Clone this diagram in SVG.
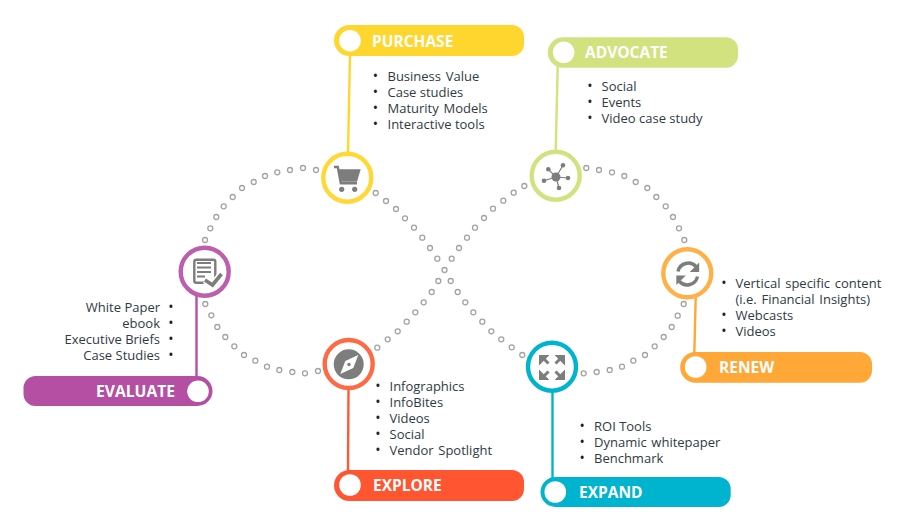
<svg xmlns="http://www.w3.org/2000/svg" width="910" height="517" viewBox="0 0 910 517">
<style>
text{font-family:"Open Sans","Liberation Sans",sans-serif}
.h{font-size:15.5px;font-weight:700;fill:#fff}
.b{font-size:13px;fill:#2f3a45}
.p{font-size:14px;fill:#1c2228}
.w{word-spacing:1.3px}
.e{text-anchor:end}
.ring{fill:#fff;stroke-width:4.400}
.hole{fill:#fff}
.d circle{fill:#fff;stroke:#a3a3a3;stroke-width:1.300}
.lk line{stroke-width:2.400}
.ic{fill:#7d7d7d}
.is{fill:none;stroke:#7d7d7d}
</style>
<g id="loop" class="d">
<circle cx="205" cy="240" r="2.500"/><circle cx="210.300" cy="228.300" r="2.500"/><circle cx="216.300" cy="217" r="2.500"/><circle cx="223.700" cy="206.300" r="2.500"/><circle cx="232.700" cy="197" r="2.500"/><circle cx="242" cy="188" r="2.500"/><circle cx="253.700" cy="182" r="2.500"/><circle cx="265" cy="176" r="2.500"/><circle cx="277.300" cy="172.300" r="2.500"/><circle cx="290" cy="170" r="2.500"/><circle cx="303" cy="168" r="2.500"/><circle cx="316" cy="170" r="2.500"/>
<circle cx="375.700" cy="193" r="2.500"/><circle cx="386" cy="201" r="2.500"/><circle cx="396" cy="209" r="2.500"/><circle cx="405" cy="218.300" r="2.500"/><circle cx="414" cy="227.700" r="2.500"/><circle cx="422.300" cy="237.700" r="2.500"/><circle cx="430" cy="248" r="2.500"/><circle cx="437.300" cy="258.700" r="2.500"/><circle cx="444.500" cy="270" r="2.500"/>
<circle cx="450.700" cy="281" r="2.500"/><circle cx="457.700" cy="292" r="2.500"/><circle cx="465.300" cy="302.300" r="2.500"/><circle cx="473.300" cy="312.300" r="2.500"/><circle cx="482.300" cy="321.700" r="2.500"/><circle cx="491.300" cy="331.300" r="2.500"/><circle cx="501.300" cy="339.300" r="2.500"/><circle cx="511.700" cy="347.300" r="2.500"/><circle cx="522.300" cy="355" r="2.500"/>
<circle cx="583.700" cy="373.300" r="2.500"/><circle cx="596.700" cy="372" r="2.500"/><circle cx="609.700" cy="370" r="2.500"/><circle cx="622" cy="366.700" r="2.500"/><circle cx="633.300" cy="360.700" r="2.500"/><circle cx="645" cy="355" r="2.500"/><circle cx="654.700" cy="346.300" r="2.500"/><circle cx="663.700" cy="337" r="2.500"/><circle cx="671.700" cy="327" r="2.500"/><circle cx="677.700" cy="315.700" r="2.500"/><circle cx="683.700" cy="304" r="2.500"/>
<circle cx="586.300" cy="168" r="2.500"/><circle cx="599" cy="170" r="2.500"/><circle cx="612" cy="172.300" r="2.500"/><circle cx="624.300" cy="176" r="2.500"/><circle cx="635.700" cy="182" r="2.500"/><circle cx="647.300" cy="188" r="2.500"/><circle cx="656.300" cy="197" r="2.500"/><circle cx="665.700" cy="206.300" r="2.500"/><circle cx="673" cy="217" r="2.500"/><circle cx="679" cy="228.300" r="2.500"/><circle cx="684.300" cy="240" r="2.500"/>
<circle cx="524.300" cy="186" r="2.500"/><circle cx="513.700" cy="192.700" r="2.500"/><circle cx="503.300" cy="200.700" r="2.500"/><circle cx="493" cy="208.700" r="2.500"/><circle cx="484" cy="218" r="2.500"/><circle cx="475" cy="227.700" r="2.500"/><circle cx="467" cy="237.700" r="2.500"/><circle cx="459" cy="248" r="2.500"/><circle cx="451.700" cy="258.700" r="2.500"/>
<circle cx="438.300" cy="281" r="2.500"/><circle cx="431.700" cy="292" r="2.500"/><circle cx="423.700" cy="302.300" r="2.500"/><circle cx="415.300" cy="312.300" r="2.500"/><circle cx="406.700" cy="321.700" r="2.500"/><circle cx="397.700" cy="331.300" r="2.500"/><circle cx="387.700" cy="339.300" r="2.500"/><circle cx="377.300" cy="347.700" r="2.500"/>
<circle cx="205.300" cy="304" r="2.500"/><circle cx="211.300" cy="315.300" r="2.500"/><circle cx="217.300" cy="327" r="2.500"/><circle cx="225.300" cy="337" r="2.500"/><circle cx="234.300" cy="346.300" r="2.500"/><circle cx="244" cy="355" r="2.500"/><circle cx="255.300" cy="360.700" r="2.500"/><circle cx="267" cy="366.700" r="2.500"/><circle cx="279.300" cy="370" r="2.500"/><circle cx="292.300" cy="372" r="2.500"/><circle cx="305" cy="373.300" r="2.500"/><circle cx="318" cy="371" r="2.500"/>
</g>
<g id="connectors" class="lk">
<line x1="350" y1="54" x2="348" y2="154" stroke="#ffd62e"/>
<line x1="557.700" y1="66" x2="555.700" y2="152" stroke="#d2e27f"/>
<line x1="196.500" y1="296" x2="196.500" y2="378" stroke="#b44fa3"/>
<line x1="348.500" y1="388" x2="348" y2="472" stroke="#ff5a35"/>
<line x1="552.500" y1="391" x2="552.500" y2="479" stroke="#00b4d0"/>
<line x1="695.700" y1="297" x2="694.300" y2="354" stroke="#ffa837"/>
</g>
<g id="purchase">
<path d="M349.500 25H512a12 12 0 0 1 12 12v7a12 12 0 0 1-12 12H349.500a15.500 15.500 0 0 1 0-31z" fill="#ffd62e"/>
<circle class="hole" cx="350" cy="40.700" r="10.800"/>
<text class="h" x="372" y="46.500">PURCHASE</text>
<circle class="ring" cx="347.300" cy="177.700" r="24" stroke="#ffd835"/>
<path class="is" stroke-width="2.400" d="M334 167h3.800l3 16.200H357M339 174l17 0"/>
<path class="ic" d="M338 169.300h22.700l-3.700 12.400h-16.500z"/>
<circle class="ic" cx="341.700" cy="189.300" r="2.600"/><circle class="ic" cx="354.700" cy="189.300" r="2.600"/>
<text class="b"><tspan class="p" x="372.800" y="81">•</tspan><tspan class="w" x="387.500" y="81">Business Value</tspan><tspan class="p" x="372.800" y="97">•</tspan><tspan x="387.500" y="97">Case studies</tspan><tspan class="p" x="372.800" y="113">•</tspan><tspan class="w" x="387.500" y="113">Maturity Models</tspan><tspan class="p" x="372.800" y="129">•</tspan><tspan x="387.500" y="129">Interactive tools</tspan></text>
</g>
<g id="advocate">
<path d="M563 37.300H726a12 12 0 0 1 12 12v6.400a12 12 0 0 1-12 12H563a15.200 15.200 0 0 1 0-30.400z" fill="#d2e27f"/>
<circle class="hole" cx="563.700" cy="52.300" r="10.800"/>
<text class="h" x="585" y="57.700">ADVOCATE</text>
<circle class="ring" cx="555.700" cy="175.700" r="24" stroke="#d2e27f"/>
<path class="is" stroke-width="1.200" d="M556 177L563 165.300M556 177L548.300 169.300M556 177L544 180.700M556 177L568 178M556 177L559 188"/>
<circle class="ic" cx="556" cy="177" r="4.500"/><circle class="ic" cx="563" cy="165.300" r="2.300"/><circle class="ic" cx="548.300" cy="169.300" r="2.300"/><circle class="ic" cx="544" cy="180.700" r="2.300"/><circle class="ic" cx="568" cy="178" r="2.300"/><circle class="ic" cx="559" cy="188" r="2.300"/>
<text class="b"><tspan class="p" x="587.300" y="91">•</tspan><tspan x="601.500" y="91">Social</tspan><tspan class="p" x="587.300" y="107">•</tspan><tspan x="601.500" y="107">Events</tspan><tspan class="p" x="587.300" y="123">•</tspan><tspan x="601.500" y="123">Video case study</tspan></text>
</g>
<g id="evaluate">
<path d="M197.500 376H35.500a12 12 0 0 0-12 12v6a12 12 0 0 0 12 12H197.500a15 15 0 0 0 0-30z" fill="#b44fa3"/>
<circle class="hole" cx="198" cy="391.300" r="10.800"/>
<text class="h e" x="175" y="396.700" textLength="79" lengthAdjust="spacingAndGlyphs">EVALUATE</text>
<circle class="ring" cx="204.700" cy="271.700" r="24" stroke="#bb5fae"/>
<rect x="194.300" y="259.700" width="21" height="23" rx="2" class="is" stroke-width="2.400"/>
<path class="is" stroke-width="1.900" d="M197 263h14M197 267.500h14M197 272h14M197 276.500h8"/>
<path d="M205 280l7.500 5 9-11" fill="none" stroke="#fff" stroke-width="7"/>
<path class="is" stroke-width="3.600" d="M205 280l7.500 5 9-11"/>
<text class="b e"><tspan x="160" y="312">White Paper</tspan><tspan class="p" x="173.500" y="312">•</tspan><tspan x="160" y="328">ebook</tspan><tspan class="p" x="173.500" y="328">•</tspan><tspan x="160" y="344">Executive Briefs</tspan><tspan class="p" x="173.500" y="344">•</tspan><tspan x="160" y="360">Case Studies</tspan><tspan class="p" x="173.500" y="360">•</tspan></text>
</g>
<g id="explore">
<path d="M349.500 470H512a12 12 0 0 1 12 12v7a12 12 0 0 1-12 12H349.500a15.500 15.500 0 0 1 0-31z" fill="#ff5530"/>
<circle class="hole" cx="350" cy="485" r="10.800"/>
<text class="h" x="373" y="490.500">EXPLORE</text>
<circle class="ring" cx="348.700" cy="364" r="24" stroke="#ff6a45"/>
<circle class="ic" cx="348.700" cy="364.300" r="15"/>
<path fill="#fff" d="M358.300 355l-5 13-13 6 5-13z"/>
<circle class="ic" cx="349" cy="364.500" r="1.700"/>
<text class="b"><tspan class="p" x="375.300" y="391">•</tspan><tspan x="389.500" y="391">Infographics</tspan><tspan class="p" x="375.300" y="407">•</tspan><tspan x="389.500" y="407">InfoBites</tspan><tspan class="p" x="375.300" y="423">•</tspan><tspan x="389.500" y="423">Videos</tspan><tspan class="p" x="375.300" y="439">•</tspan><tspan x="389.500" y="439">Social</tspan><tspan class="p" x="375.300" y="455">•</tspan><tspan class="w" x="389.500" y="455">Vendor Spotlight</tspan></text>
</g>
<g id="expand">
<path d="M555.500 477H718.700a12 12 0 0 1 12 12v6a12 12 0 0 1-12 12H555.500a15 15 0 0 1 0-30z" fill="#00b4d0"/>
<circle class="hole" cx="555.300" cy="492" r="10.800"/>
<text class="h" x="579" y="498">EXPAND</text>
<circle class="ring" cx="552" cy="366.700" r="24" stroke="#00b4d0"/>
<path class="is" stroke-width="3" d="M541 356l7.500 7.500M563 356l-7.500 7.500M541 379l7.500-7.500M563 379l-7.500-7.500"/>
<path class="ic" d="M539 355h10.500l-10.500 10.500zM565 355h-10.500l10.500 10.500zM539 380h10.500l-10.500-10.500zM565 380h-10.500l10.500-10.500z"/>
<text class="b"><tspan class="p" x="579.500" y="431">•</tspan><tspan x="594" y="431">ROI Tools</tspan><tspan class="p" x="579.500" y="447">•</tspan><tspan class="w" x="594" y="447">Dynamic whitepaper</tspan><tspan class="p" x="579.500" y="463">•</tspan><tspan x="594" y="463">Benchmark</tspan></text>
</g>
<g id="renew">
<path d="M695.500 352H860a12 12 0 0 1 12 12v6.700a12 12 0 0 1-12 12H695.500a15.300 15.300 0 0 1 0-30.700z" fill="#ffa837"/>
<circle class="hole" cx="695.700" cy="367" r="10.800"/>
<text class="h" x="719" y="372.700">RENEW</text>
<circle class="ring" cx="687.300" cy="273.300" r="24" stroke="#ffb147"/>
<path class="is" stroke-width="3.400" d="M678 271.500A10.500 10.500 0 0 1 696 266.500M697.500 276.500A10.500 10.500 0 0 1 679.500 281.500"/>
<path class="ic" d="M699.200 262.500v9.500h-9.500zM676.300 285v-9.500h9.500z"/>
<text class="b"><tspan class="p" x="721.300" y="288">•</tspan><tspan class="w" x="735.500" y="288">Vertical specific content</tspan><tspan class="w" x="735.500" y="304">(i.e. Financial Insights)</tspan><tspan class="p" x="721.300" y="320">•</tspan><tspan x="735.500" y="320">Webcasts</tspan><tspan class="p" x="721.300" y="336">•</tspan><tspan x="735.500" y="336">Videos</tspan></text>
</g>
</svg>
